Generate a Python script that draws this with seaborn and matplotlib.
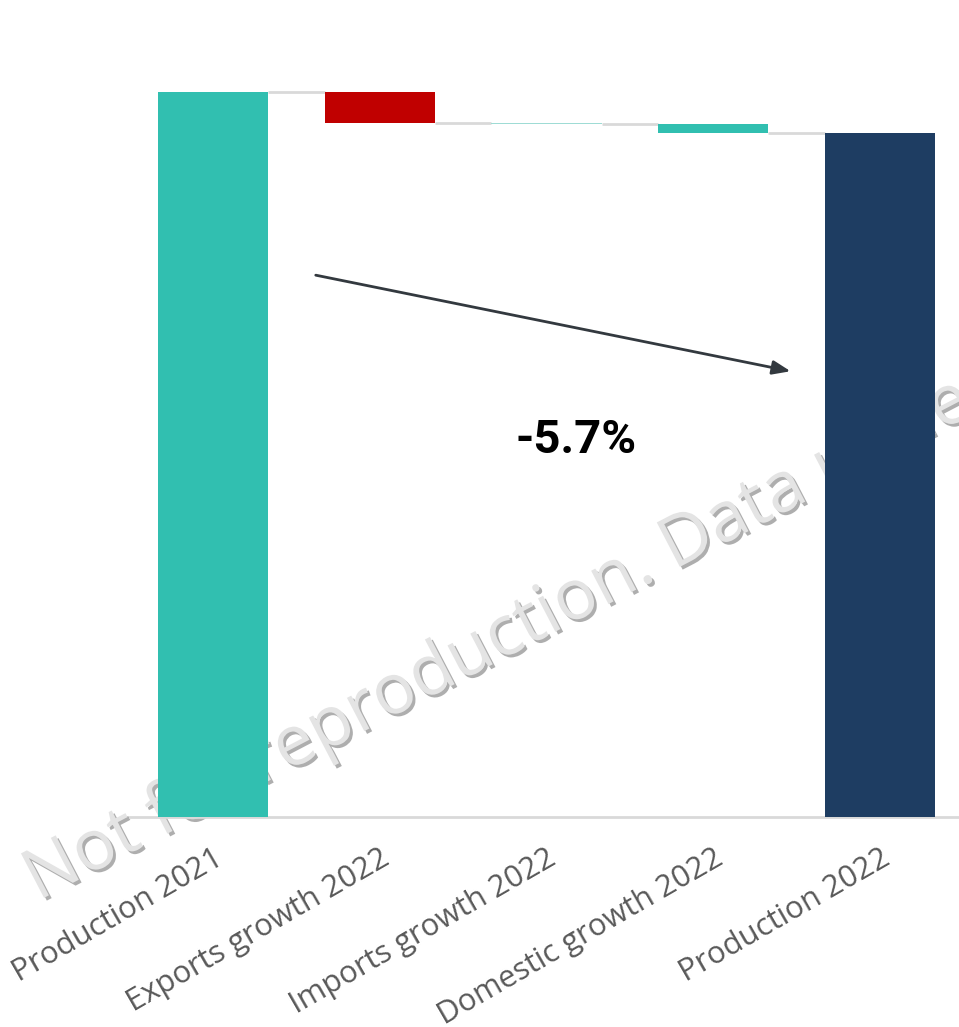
import numpy as np
import pandas as pd
import seaborn as sns
import matplotlib
matplotlib.use("Agg")
import matplotlib.pyplot as plt
import matplotlib.patheffects as pe

# ---- data ----
categories = ["Production 2021", "Exports growth 2022", "Imports growth 2022",
              "Domestic growth 2022", "Production 2022"]
start_value = 100.0
changes = [-4.3, -0.08, -1.35]          # exports, imports, domestic
end_value = start_value + sum(changes)
change_label = "-5.7%"
watermark = "Not for reproduction. Data under license"

# ---- waterfall geometry from data ----
levels = [start_value]
for c in changes:
    levels.append(levels[-1] + c)
bottoms = [0.0] + levels[:-1] + [0.0]
heights = [start_value] + changes + [end_value]
df = pd.DataFrame({"category": categories, "height": heights, "bottom": bottoms})

colors = ["#31BFB0", "#C00000", "#9fdcd5", "#31BFB0", "#1E3D62"]

sns.set_theme(style="white")
plt.rcParams["font.family"] = ["Open Sans", "DejaVu Sans"]

fig = plt.figure(figsize=(9.59, 10.27), dpi=100)
left_px, right_px = 129.6, 963.4
ax = fig.add_axes([left_px / 959, 1 - 817 / 1027, (right_px - left_px) / 959, (817 - 60) / 1027])
ax.patch.set_alpha(0)

sns.barplot(data=df, x="category", y="height", bottom=df["bottom"].values,
            order=categories, ax=ax, width=0.66, color=colors[0],
            errorbar=None, linewidth=0)
for patch, col in zip(ax.patches, colors):
    patch.set_facecolor(col)
    patch.set_zorder(2)

# connectors
bw = 0.66
for i in range(len(categories) - 1):
    y = levels[i] if i < len(levels) else end_value
    ax.plot([i + bw / 2, i + 1 - bw / 2], [y, y], color="#d9d9d9", lw=2,
            zorder=1.5, solid_capstyle="butt")

ax.set_xlim(-0.5, 4.5)
ax.set_ylim(0, 104.4)
ax.set_xlabel("")
ax.set_ylabel("")
ax.set_yticks([])
for s in ["top", "right", "left"]:
    ax.spines[s].set_visible(False)
ax.spines["bottom"].set_color("#d9d9d9")
ax.spines["bottom"].set_linewidth(2)
ax.spines["bottom"].set_zorder(1.8)
ax.tick_params(axis="x", length=0, pad=19)
ax.set_xticks(range(len(categories)))
ax.set_xticklabels(categories, rotation=30, ha="right", va="top",
                   rotation_mode="anchor", fontsize=22.2, color="#595959")

# arrow and change label
ax.annotate("", xy=(3.48, 61.4), xytext=(0.6, 74.8),
            arrowprops=dict(arrowstyle="-|>,head_length=0.9,head_width=0.35",
                            color="#33393f", lw=2), zorder=3)
ax.text(2.18, 52, change_label, ha="center", va="center", fontsize=34,
        fontweight="bold", color="black", family=["Roboto", "DejaVu Sans"], zorder=3)

# watermark (behind bars; the figure edge cuts it off)
ax.text(38 / 959, 1 - 901 / 1027, watermark, transform=fig.transFigure,
        rotation=27.5, rotation_mode="anchor", ha="left", va="baseline",
        fontsize=50.5, color="#e4e4e4", clip_on=False, zorder=1,
        path_effects=[pe.withSimplePatchShadow(offset=(2, -2), shadow_rgbFace="#9a9a9a", alpha=0.8)])

fig.savefig("out.png", dpi=100)
